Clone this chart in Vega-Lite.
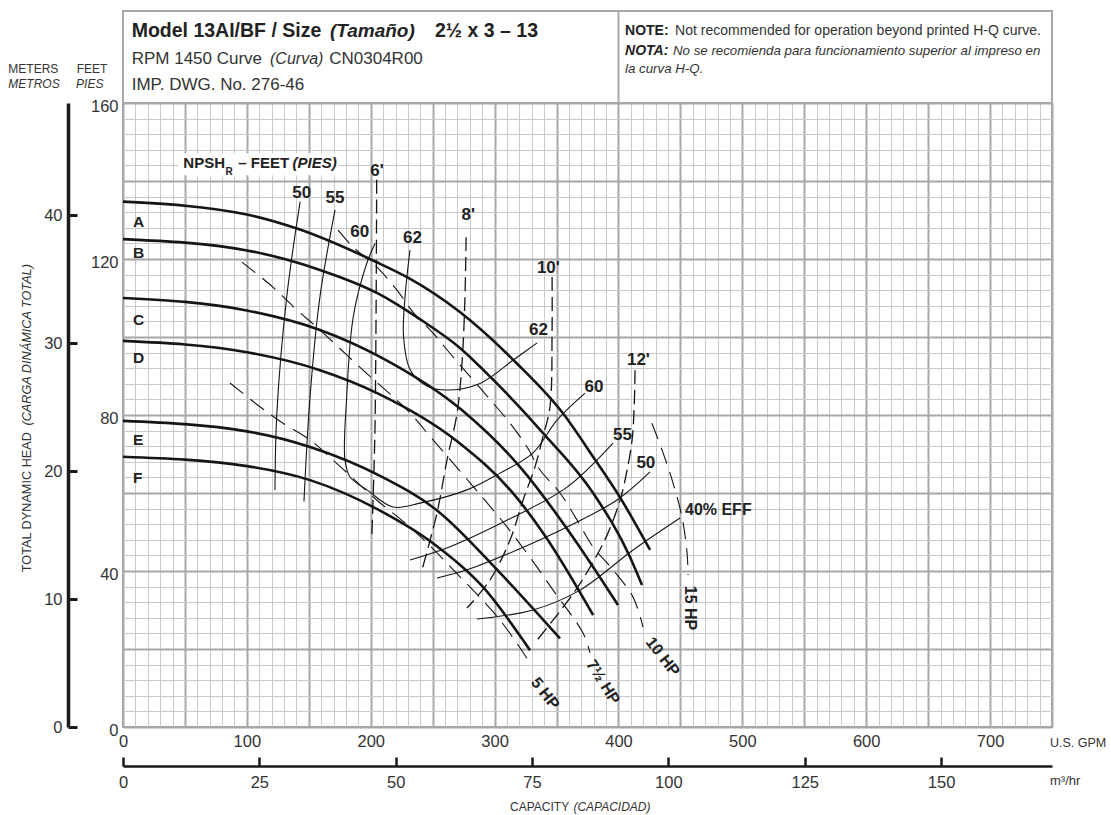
{
  "$schema": "https://vega.github.io/schema/vega-lite/v6.json",
  "width": 929,
  "height": 624,
  "autosize": {"type": "none"},
  "padding": {"left": 123, "top": 103, "right": 59, "bottom": 88},
  "background": "white",
  "config": {
    "font": "Liberation Sans",
    "view": {"stroke": "#a8a8aa", "strokeWidth": 2},
    "axis": {"labelFont": "Liberation Sans", "labelColor": "#333333", "titleFont": "Liberation Sans"},
    "text": {"color": "#2a2a2a"}
  },
  "datasets": {
    "curves": [
      {"k":"head","id":"A","q":0,"h":134.7},{"k":"head","id":"A","q":100,"h":131.4},{"k":"head","id":"A","q":140.5,"h":127.8},{"k":"head","id":"A","q":204,"h":119.3},{"k":"head","id":"A","q":229,"h":115.4},{"k":"head","id":"A","q":272,"h":106.4},{"k":"head","id":"A","q":318,"h":93.2},{"k":"head","id":"A","q":355,"h":80.5},{"k":"head","id":"A","q":379.5,"h":69.3},{"k":"head","id":"A","q":401,"h":59},{"k":"head","id":"A","q":425.5,"h":45.4},
      {"k":"head","id":"B","q":0,"h":125.1},{"k":"head","id":"B","q":100,"h":122.2},{"k":"head","id":"B","q":159,"h":117.2},{"k":"head","id":"B","q":205,"h":111.3},{"k":"head","id":"B","q":240,"h":104.5},{"k":"head","id":"B","q":272,"h":97.2},{"k":"head","id":"B","q":299,"h":89},{"k":"head","id":"B","q":339.3,"h":75.3},{"k":"head","id":"B","q":379.5,"h":60},{"k":"head","id":"B","q":409.3,"h":43.6},{"k":"head","id":"B","q":419,"h":36.4},
      {"k":"head","id":"C","q":0,"h":110},{"k":"head","id":"C","q":100,"h":106.8},{"k":"head","id":"C","q":159,"h":101.8},{"k":"head","id":"C","q":207.5,"h":94.9},{"k":"head","id":"C","q":274.5,"h":81},{"k":"head","id":"C","q":320.5,"h":66.7},{"k":"head","id":"C","q":361,"h":49.7},{"k":"head","id":"C","q":399.6,"h":31.3},
      {"k":"head","id":"D","q":0,"h":99},{"k":"head","id":"D","q":100,"h":96.1},{"k":"head","id":"D","q":159,"h":91.5},{"k":"head","id":"D","q":206,"h":85.5},{"k":"head","id":"D","q":269.2,"h":73.4},{"k":"head","id":"D","q":315,"h":59.9},{"k":"head","id":"D","q":339.3,"h":49.7},{"k":"head","id":"D","q":379.6,"h":28.7},
      {"k":"head","id":"E","q":0,"h":78.5},{"k":"head","id":"E","q":100,"h":75.8},{"k":"head","id":"E","q":151,"h":71.8},{"k":"head","id":"E","q":207.5,"h":64.4},{"k":"head","id":"E","q":253.3,"h":55.6},{"k":"head","id":"E","q":304.4,"h":39.5},{"k":"head","id":"E","q":352.8,"h":22.7},
      {"k":"head","id":"F","q":0,"h":69.3},{"k":"head","id":"F","q":100,"h":66.9},{"k":"head","id":"F","q":151,"h":63.3},{"k":"head","id":"F","q":207.5,"h":55.5},{"k":"head","id":"F","q":250,"h":47.2},{"k":"head","id":"F","q":290.6,"h":35.9},{"k":"head","id":"F","q":328.6,"h":19.7},
      {"k":"eff","id":"50L","q":143,"h":134.7},{"k":"eff","id":"50L","q":132.2,"h":110.3},{"k":"eff","id":"50L","q":124.2,"h":80.4},{"k":"eff","id":"50L","q":122.7,"h":60.8},
      {"k":"eff","id":"55L","q":171.2,"h":132.6},{"k":"eff","id":"55L","q":159,"h":110.3},{"k":"eff","id":"55L","q":151,"h":84.7},{"k":"eff","id":"55L","q":146.1,"h":57.8},
      {"k":"eff","id":"60","q":203.5,"h":124},{"k":"eff","id":"60","q":196.8,"h":118.9},{"k":"eff","id":"60","q":185.9,"h":105.2},{"k":"eff","id":"60","q":180.6,"h":84.7},{"k":"eff","id":"60","q":179.2,"h":68.5},{"k":"eff","id":"60","q":183.3,"h":64.1},{"k":"eff","id":"60","q":197,"h":60.8},{"k":"eff","id":"60","q":218,"h":56.4},{"k":"eff","id":"60","q":239.8,"h":57.4},{"k":"eff","id":"60","q":277.7,"h":60.8},{"k":"eff","id":"60","q":304.4,"h":65.1},{"k":"eff","id":"60","q":331,"h":70.3},{"k":"eff","id":"60","q":350.4,"h":78.7},{"k":"eff","id":"60","q":373,"h":85.6},
      {"k":"eff","id":"62","q":231.7,"h":122.3},{"k":"eff","id":"62","q":227.7,"h":110.3},{"k":"eff","id":"62","q":226.5,"h":100},{"k":"eff","id":"62","q":232,"h":91.5},{"k":"eff","id":"62","q":245,"h":87.5},{"k":"eff","id":"62","q":261.3,"h":86.4},{"k":"eff","id":"62","q":288.2,"h":88.1},{"k":"eff","id":"62","q":315.1,"h":94.1},{"k":"eff","id":"62","q":334.3,"h":98.5},
      {"k":"eff","id":"55R","q":231.7,"h":42.8},{"k":"eff","id":"55R","q":264,"h":46.2},{"k":"eff","id":"55R","q":314.9,"h":53.8},{"k":"eff","id":"55R","q":358.5,"h":61.5},{"k":"eff","id":"55R","q":395.6,"h":72.8},
      {"k":"eff","id":"50R","q":253.5,"h":38.2},{"k":"eff","id":"50R","q":277.7,"h":40.3},{"k":"eff","id":"50R","q":318,"h":45.4},{"k":"eff","id":"50R","q":358.5,"h":51.3},{"k":"eff","id":"50R","q":398.8,"h":58.2},{"k":"eff","id":"50R","q":425.5,"h":65.4},
      {"k":"eff","id":"40","q":285.8,"h":27.7},{"k":"eff","id":"40","q":331,"h":30},{"k":"eff","id":"40","q":369,"h":35.1},{"k":"eff","id":"40","q":411.8,"h":45.4},{"k":"eff","id":"40","q":449.7,"h":53.6},
      {"k":"npsh","id":"6","q":204.8,"h":140.3},{"k":"npsh","id":"6","q":203.4,"h":76.2},{"k":"npsh","id":"6","q":200.9,"h":49.2},
      {"k":"npsh","id":"8","q":277,"h":125.6},{"k":"npsh","id":"8","q":276,"h":109.5},{"k":"npsh","id":"8","q":273.7,"h":93.3},{"k":"npsh","id":"8","q":269.7,"h":80.5},{"k":"npsh","id":"8","q":261.6,"h":68.5},{"k":"npsh","id":"8","q":253.5,"h":54.9},{"k":"npsh","id":"8","q":241.4,"h":40.3},
      {"k":"npsh","id":"10","q":346.4,"h":115.4},{"k":"npsh","id":"10","q":346.4,"h":101.8},{"k":"npsh","id":"10","q":344.7,"h":82.1},{"k":"npsh","id":"10","q":339,"h":74.4},{"k":"npsh","id":"10","q":332.6,"h":66.7},{"k":"npsh","id":"10","q":323,"h":58.2},{"k":"npsh","id":"10","q":312.4,"h":47.9},{"k":"npsh","id":"10","q":296.3,"h":37.7},{"k":"npsh","id":"10","q":277.7,"h":30.5},
      {"k":"npsh","id":"12","q":413.4,"h":91.5},{"k":"npsh","id":"12","q":412.6,"h":81.3},{"k":"npsh","id":"12","q":411,"h":73.6},{"k":"npsh","id":"12","q":407,"h":65.9},{"k":"npsh","id":"12","q":401.3,"h":58.2},{"k":"npsh","id":"12","q":390.8,"h":49.2},{"k":"npsh","id":"12","q":379.5,"h":42.3},{"k":"npsh","id":"12","q":366.5,"h":35.6},{"k":"npsh","id":"12","q":347.2,"h":27.4},{"k":"npsh","id":"12","q":334.3,"h":22.3},
      {"k":"hp","id":"5","q":86.4,"h":88.2},{"k":"hp","id":"5","q":110.6,"h":82.1},{"k":"hp","id":"5","q":129.2,"h":77.9},{"k":"hp","id":"5","q":151,"h":73.6},{"k":"hp","id":"5","q":172.5,"h":67.6},{"k":"hp","id":"5","q":204.8,"h":58.2},{"k":"hp","id":"5","q":234.4,"h":50.5},{"k":"hp","id":"5","q":269.4,"h":39.4},{"k":"hp","id":"5","q":304.4,"h":27.4},{"k":"hp","id":"5","q":327,"h":17.2},
      {"k":"hp","id":"7.5","q":96,"h":119.2},{"k":"hp","id":"7.5","q":121,"h":112.8},{"k":"hp","id":"7.5","q":140.5,"h":106.9},{"k":"hp","id":"7.5","q":159,"h":101.8},{"k":"hp","id":"7.5","q":193.8,"h":91.5},{"k":"hp","id":"7.5","q":229.3,"h":81.3},{"k":"hp","id":"7.5","q":250.3,"h":73.6},{"k":"hp","id":"7.5","q":280.2,"h":62.6},{"k":"hp","id":"7.5","q":310,"h":51.3},{"k":"hp","id":"7.5","q":334.3,"h":41},{"k":"hp","id":"7.5","q":347.2,"h":35.1},{"k":"hp","id":"7.5","q":371.4,"h":24.1},{"k":"hp","id":"7.5","q":377,"h":19},
      {"k":"hp","id":"10","q":173.6,"h":127.4},{"k":"hp","id":"10","q":185.7,"h":123.1},{"k":"hp","id":"10","q":205,"h":117.9},{"k":"hp","id":"10","q":221.2,"h":112},{"k":"hp","id":"10","q":234.1,"h":106.4},{"k":"hp","id":"10","q":250.3,"h":101},{"k":"hp","id":"10","q":266.4,"h":94.9},{"k":"hp","id":"10","q":282.6,"h":89},{"k":"hp","id":"10","q":298.7,"h":83.1},{"k":"hp","id":"10","q":312.4,"h":77.9},{"k":"hp","id":"10","q":326.2,"h":71.8},{"k":"hp","id":"10","q":336.7,"h":65.9},{"k":"hp","id":"10","q":352.8,"h":60},{"k":"hp","id":"10","q":366.5,"h":53.1},{"k":"hp","id":"10","q":379.5,"h":46.2},{"k":"hp","id":"10","q":395.6,"h":40.3},{"k":"hp","id":"10","q":411.8,"h":33.3},{"k":"hp","id":"10","q":419.8,"h":25.6},
      {"k":"hp","id":"15","q":427,"h":77.9},{"k":"hp","id":"15","q":436,"h":70.3},{"k":"hp","id":"15","q":444,"h":62.6},{"k":"hp","id":"15","q":451.3,"h":53.8},{"k":"hp","id":"15","q":455.4,"h":44.6},{"k":"hp","id":"15","q":456.2,"h":39}
    ]
  },
  "layer": [
    {
      "encoding": {
        "x": {
          "field": "q", "type": "quantitative",
          "scale": {"domain": [0, 750], "nice": false, "zero": false},
          "axis": {
            "orient": "bottom", "title": null,
            "values": [0,10,20,30,40,50,60,70,80,90,100,110,120,130,140,150,160,170,180,190,200,210,220,230,240,250,260,270,280,290,300,310,320,330,340,350,360,370,380,390,400,410,420,430,440,450,460,470,480,490,500,510,520,530,540,550,560,570,580,590,600,610,620,630,640,650,660,670,680,690,700,710,720,730,740,750],
            "grid": true,
            "gridColor": {"condition": {"test": "datum.value % 50 === 0", "value": "#a8a8aa"}, "value": "#cacacc"},
            "gridWidth": {"condition": {"test": "datum.value % 50 === 0", "value": 2}, "value": 1},
            "ticks": false, "domain": false,
            "labelExpr": "datum.value % 100 === 0 ? datum.label : ''",
            "labelOverlap": false, "labelFlush": false,
            "labelBaseline": "top", "labelPadding": 6, "labelFontSize": 16.5
          }
        },
        "y": {
          "field": "h", "type": "quantitative",
          "scale": {"domain": [0, 160], "nice": false, "zero": false},
          "axis": {
            "orient": "left", "title": null,
            "values": [0,4,8,12,16,20,24,28,32,36,40,44,48,52,56,60,64,68,72,76,80,84,88,92,96,100,104,108,112,116,120,124,128,132,136,140,144,148,152,156,160],
            "grid": true,
            "gridColor": {"condition": {"test": "datum.value % 20 === 0", "value": "#a8a8aa"}, "value": "#cacacc"},
            "gridWidth": {"condition": {"test": "datum.value % 20 === 0", "value": 2}, "value": 1},
            "ticks": false, "domain": false,
            "labelExpr": "datum.value % 40 === 0 ? datum.label : ''",
            "labelOverlap": false, "labelFlush": false,
            "labelPadding": 5, "labelFontSize": 16.5, "labelOffset": 3
          }
        }
      },
      "layer": [
        {
          "data": {"values": [{"q": 0, "q2": 750, "h": 160, "h2": 183.6}]},
          "mark": {"type": "rect", "fill": "white", "stroke": "#a8a8aa", "strokeWidth": 2},
          "encoding": {"x2": {"field": "q2"}, "y2": {"field": "h2"}}
        },
        {
          "data": {"values": [{"q": 400, "h": 160, "h2": 183.6}]},
          "mark": {"type": "rule", "color": "#a8a8aa", "strokeWidth": 2},
          "encoding": {"y2": {"field": "h2"}}
        },
        {
          "data": {"values": [{"q": 44.7, "q2": 173.8, "h": 141.5, "h2": 147.1}]},
          "mark": {"type": "rect", "fill": "white"},
          "encoding": {"x2": {"field": "q2"}, "y2": {"field": "h2"}}
        },
        {
          "data": {"name": "curves"},
          "transform": [{"filter": "datum.k === 'head'"}],
          "mark": {"type": "line", "color": "#151515", "strokeWidth": 2.6, "interpolate": "monotone"},
          "encoding": {"detail": {"field": "id"}}
        },
        {
          "data": {"name": "curves"},
          "transform": [{"filter": "datum.k === 'eff'"}],
          "mark": {"type": "line", "color": "#151515", "strokeWidth": 1.1, "interpolate": "catmull-rom"},
          "encoding": {"detail": {"field": "id"}, "order": {"value": null}}
        },
        {
          "data": {"name": "curves"},
          "transform": [{"filter": "datum.k === 'npsh'"}],
          "mark": {"type": "line", "color": "#151515", "strokeWidth": 1.3, "strokeDash": [14, 6], "interpolate": "catmull-rom"},
          "encoding": {"detail": {"field": "id"}, "order": {"value": null}}
        },
        {
          "data": {"name": "curves"},
          "transform": [{"filter": "datum.k === 'hp'"}],
          "mark": {"type": "line", "color": "#151515", "strokeWidth": 1.1, "strokeDash": [17, 9], "interpolate": "catmull-rom"},
          "encoding": {"detail": {"field": "id"}, "order": {"value": null}}
        },
        {
          "data": {"values": [{"t": "Model 13AI/BF / Size", "q": 7, "h": 176.9}, {"t": "2½ x 3 – 13", "q": 251.9, "h": 176.9}]},
          "mark": {"type": "text", "fontSize": 19.5, "fontWeight": "bold", "align": "left", "baseline": "alphabetic", "color": "#222"},
          "encoding": {"text": {"field": "t"}}
        },
        {
          "data": {"values": [{"t": "(Tamaño)", "q": 167.1, "h": 176.9}]},
          "mark": {"type": "text", "fontSize": 19, "fontWeight": "bold", "fontStyle": "italic", "align": "left", "baseline": "alphabetic", "color": "#222"},
          "encoding": {"text": {"field": "t"}}
        },
        {
          "data": {"values": [{"t": "RPM 1450 Curve", "q": 7, "h": 170}, {"t": "CN0304R00", "q": 166.5, "h": 170}, {"t": "IMP. DWG. No. 276-46", "q": 7, "h": 163.3}]},
          "mark": {"type": "text", "fontSize": 17, "align": "left", "baseline": "alphabetic", "color": "#333"},
          "encoding": {"text": {"field": "t"}}
        },
        {
          "data": {"values": [{"t": "(Curva)", "q": 118.7, "h": 170}]},
          "mark": {"type": "text", "fontSize": 16, "fontStyle": "italic", "align": "left", "baseline": "alphabetic", "color": "#333"},
          "encoding": {"text": {"field": "t"}}
        },
        {
          "data": {"values": [{"t": "NOTE:", "q": 405.3, "h": 177.4}]},
          "mark": {"type": "text", "fontSize": 14, "fontWeight": "bold", "align": "left", "baseline": "alphabetic", "color": "#222"},
          "encoding": {"text": {"field": "t"}}
        },
        {
          "data": {"values": [{"t": "Not recommended for operation beyond printed H-Q curve.", "q": 445.7, "h": 177.4}]},
          "mark": {"type": "text", "fontSize": 14, "align": "left", "baseline": "alphabetic", "color": "#333"},
          "encoding": {"text": {"field": "t"}}
        },
        {
          "data": {"values": [{"t": "NOTA:", "q": 405.3, "h": 172.3}]},
          "mark": {"type": "text", "fontSize": 14, "fontWeight": "bold", "fontStyle": "italic", "align": "left", "baseline": "alphabetic", "color": "#222"},
          "encoding": {"text": {"field": "t"}}
        },
        {
          "data": {"values": [{"t": "No se recomienda para funcionamiento superior al impreso en", "q": 444, "h": 172.3}, {"t": "la curva H-Q.", "q": 405.3, "h": 167.6}]},
          "mark": {"type": "text", "fontSize": 13.3, "fontStyle": "italic", "align": "left", "baseline": "alphabetic", "color": "#333"},
          "encoding": {"text": {"field": "t"}}
        },
        {
          "data": {"values": [{"t": "METERS", "q": -92.6, "h": 167.8}, {"t": "FEET", "q": -37.4, "h": 167.8}]},
          "mark": {"type": "text", "fontSize": 12, "align": "left", "baseline": "alphabetic", "color": "#333"},
          "encoding": {"text": {"field": "t"}}
        },
        {
          "data": {"values": [{"t": "METROS", "q": -92.6, "h": 163.8}, {"t": "PIES", "q": -37.9, "h": 163.8}]},
          "mark": {"type": "text", "fontSize": 12, "fontStyle": "italic", "align": "left", "baseline": "alphabetic", "color": "#333"},
          "encoding": {"text": {"field": "t"}}
        },
        {
          "data": {"values": [{"t": "TOTAL DYNAMIC HEAD", "q": -77.1, "h": 39.7}]},
          "mark": {"type": "text", "fontSize": 12.7, "angle": 270, "align": "left", "baseline": "middle", "color": "#333"},
          "encoding": {"text": {"field": "t"}}
        },
        {
          "data": {"values": [{"t": "(CARGA DINÁMICA TOTAL)", "q": -77.1, "h": 77.3}]},
          "mark": {"type": "text", "fontSize": 12.7, "fontStyle": "italic", "angle": 270, "align": "left", "baseline": "middle", "color": "#333"},
          "encoding": {"text": {"field": "t"}}
        },
        {
          "data": {"values": [{"t": "U.S. GPM", "q": 748.4, "h": -4}]},
          "mark": {"type": "text", "fontSize": 12.5, "align": "left", "baseline": "middle", "color": "#333"},
          "encoding": {"text": {"field": "t"}}
        },
        {
          "data": {"values": [{"t": "m³/hr", "q": 748.4, "h": -13.8}]},
          "mark": {"type": "text", "fontSize": 13, "align": "left", "baseline": "middle", "color": "#333"},
          "encoding": {"text": {"field": "t"}}
        },
        {
          "data": {"values": [{"t": "CAPACITY", "q": 312.5, "h": -20.4}]},
          "mark": {"type": "text", "fontSize": 12, "align": "left", "baseline": "middle", "color": "#333"},
          "encoding": {"text": {"field": "t"}}
        },
        {
          "data": {"values": [{"t": "(CAPACIDAD)", "q": 363.6, "h": -20.4}]},
          "mark": {"type": "text", "fontSize": 12, "fontStyle": "italic", "align": "left", "baseline": "middle", "color": "#333"},
          "encoding": {"text": {"field": "t"}}
        },
        {
          "data": {"values": [{"t": "A", "q": 8.1, "h": 129.4}, {"t": "B", "q": 8.1, "h": 121.5}, {"t": "C", "q": 8.1, "h": 104.4}, {"t": "D", "q": 8.1, "h": 94.6}, {"t": "E", "q": 8.1, "h": 73.6}, {"t": "F", "q": 8.1, "h": 63.8}]},
          "mark": {"type": "text", "fontSize": 15.5, "fontWeight": "bold", "align": "left", "baseline": "middle", "color": "#222"},
          "encoding": {"text": {"field": "t"}}
        },
        {
          "data": {"values": [
            {"t": "50", "q": 144.3, "h": 136.8}, {"t": "55", "q": 171.2, "h": 135.6}, {"t": "60", "q": 191.1, "h": 127}, {"t": "62", "q": 233.7, "h": 125.3},
            {"t": "6'", "q": 205.1, "h": 142.6}, {"t": "8'", "q": 278.8, "h": 131.3}, {"t": "10'", "q": 343.4, "h": 117.8}, {"t": "12'", "q": 416.1, "h": 94.2},
            {"t": "62", "q": 335.4, "h": 101.7}, {"t": "60", "q": 380.3, "h": 87.2}, {"t": "55", "q": 403.3, "h": 74.9}, {"t": "50", "q": 422.1, "h": 67.6}
          ]},
          "mark": {"type": "text", "fontSize": 17, "fontWeight": "bold", "align": "center", "baseline": "middle", "color": "#222"},
          "encoding": {"text": {"field": "t"}}
        },
        {
          "data": {"values": [{"t": "40% EFF", "q": 453.7, "h": 55.6}]},
          "mark": {"type": "text", "fontSize": 16, "fontWeight": "bold", "align": "left", "baseline": "middle", "color": "#222"},
          "encoding": {"text": {"field": "t"}}
        },
        {
          "data": {"values": [{"t": "NPSH", "q": 48.7, "h": 144.6}, {"t": "– FEET", "q": 93.1, "h": 144.6}]},
          "mark": {"type": "text", "fontSize": 15, "fontWeight": "bold", "align": "left", "baseline": "middle", "color": "#222"},
          "encoding": {"text": {"field": "t"}}
        },
        {
          "data": {"values": [{"t": "(PIES)", "q": 136.9, "h": 144.6}]},
          "mark": {"type": "text", "fontSize": 15, "fontWeight": "bold", "fontStyle": "italic", "align": "left", "baseline": "middle", "color": "#222"},
          "encoding": {"text": {"field": "t"}}
        },
        {
          "data": {"values": [{"t": "R", "q": 82.8, "h": 142.4}]},
          "mark": {"type": "text", "fontSize": 10, "fontWeight": "bold", "align": "left", "baseline": "middle", "color": "#222"},
          "encoding": {"text": {"field": "t"}}
        },
        {
          "data": {"values": [{"t": "5 HP", "q": 340.7, "h": 8.6}, {"t": "10 HP", "q": 435.6, "h": 18}]},
          "mark": {"type": "text", "fontSize": 16, "fontWeight": "bold", "angle": 52, "align": "center", "baseline": "middle", "color": "#222"},
          "encoding": {"text": {"field": "t"}}
        },
        {
          "data": {"values": [{"t": "7½ HP", "q": 387.5, "h": 11.5}]},
          "mark": {"type": "text", "fontSize": 16, "fontWeight": "bold", "angle": 58, "align": "center", "baseline": "middle", "color": "#222"},
          "encoding": {"text": {"field": "t"}}
        },
        {
          "data": {"values": [{"t": "15 HP", "q": 457.8, "h": 30.5}]},
          "mark": {"type": "text", "fontSize": 16, "fontWeight": "bold", "angle": 90, "align": "center", "baseline": "middle", "color": "#222"},
          "encoding": {"text": {"field": "t"}}
        }
      ]
    },
    {
      "data": {"values": [{"m3": 0, "m": 0}]},
      "mark": {"type": "point", "opacity": 0},
      "encoding": {
        "x": {
          "field": "m3", "type": "quantitative",
          "scale": {"domain": [0, 170.34], "nice": false, "zero": false},
          "axis": {"orient": "bottom", "offset": 39, "title": null, "values": [0, 25, 50, 75, 100, 125, 150], "grid": false,
                   "domainColor": "#1a1a1a", "domainWidth": 2.5, "tickColor": "#1a1a1a", "tickWidth": 2.5, "tickSize": -9,
                   "labelPadding": 17, "labelFontSize": 16.5, "labelFlush": false, "labelBaseline": "top"}
        },
        "y": {
          "field": "m", "type": "quantitative",
          "scale": {"domain": [0, 48.768], "nice": false, "zero": false},
          "axis": {"orient": "left", "offset": 55, "title": null, "values": [0, 10, 20, 30, 40], "grid": false,
                   "domainColor": "#1a1a1a", "domainWidth": 3.5, "tickColor": "#1a1a1a", "tickWidth": 3, "tickSize": -9,
                   "labelPadding": 15, "labelFontSize": 16.5, "labelFlush": false}
        }
      }
    }
  ],
  "resolve": {"scale": {"x": "independent", "y": "independent"}}
}
